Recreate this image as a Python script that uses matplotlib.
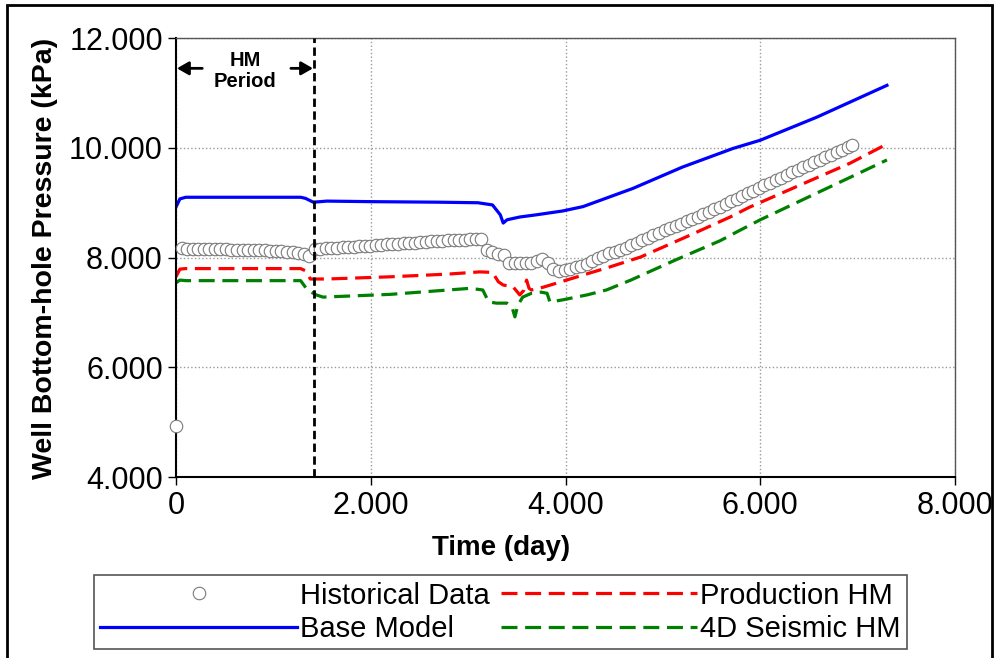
import numpy as np
import matplotlib.pyplot as plt
from matplotlib.patches import Rectangle
from matplotlib.ticker import FuncFormatter

plt.rcParams['font.family'] = ['Liberation Sans', 'DejaVu Sans']

# historical well bottom-hole pressure (kPa)
hist_days = [0, 57, 114, 171, 228, 285, 342, 399, 456, 513, 570, 627, 684, 741, 798,
             855, 912, 969, 1026, 1083, 1140, 1197, 1254, 1311, 1368, 1425, 1482,
             1539, 1596, 1653, 1710, 1767, 1824, 1881, 1938, 1995, 2052, 2109, 2166,
             2223, 2280, 2337, 2394, 2451, 2508, 2565, 2622, 2679, 2736, 2793, 2850,
             2907, 2964, 3021, 3078, 3135, 3192, 3249, 3306, 3363, 3420, 3477, 3534,
             3591, 3648, 3705, 3762, 3819, 3876, 3933, 3990, 4047, 4104, 4161, 4218,
             4275, 4332, 4389, 4446, 4503, 4560, 4617, 4674, 4731, 4788, 4845, 4902,
             4959, 5016, 5073, 5130, 5187, 5244, 5301, 5358, 5415, 5472, 5529, 5586,
             5643, 5700, 5757, 5814, 5871, 5928, 5985, 6042, 6099, 6156, 6213, 6270,
             6327, 6384, 6441, 6498, 6555, 6612, 6669, 6726, 6783, 6840, 6897, 6940]
hist_p = [4930, 8170, 8165, 8165, 8160, 8160, 8155, 8155, 8150, 8150, 8145, 8145, 8140,
          8140, 8135, 8130, 8130, 8125, 8120, 8115, 8110, 8100, 8090, 8060, 8030, 8160,
          8165, 8170, 8175, 8180, 8190, 8195, 8200, 8210, 8215, 8220, 8230, 8235, 8240,
          8250, 8255, 8260, 8270, 8275, 8280, 8290, 8295, 8300, 8305, 8315, 8320, 8325,
          8330, 8335, 8340, 8340, 8140, 8100, 8070, 8040, 7910, 7900, 7900, 7900, 7910,
          7930, 7970, 7900, 7790, 7760, 7770, 7790, 7820, 7845, 7880, 7940, 7990, 8030,
          8080, 8110, 8140, 8180, 8225, 8270, 8315, 8360, 8410, 8455, 8495, 8535, 8575,
          8620, 8660, 8700, 8745, 8790, 8835, 8880, 8925, 8975, 9025, 9075, 9125, 9170,
          9220, 9270, 9320, 9365, 9410, 9460, 9510, 9555, 9605, 9650, 9695, 9740, 9785,
          9830, 9875, 9920, 9965, 10010, 10060]

base_days = [0, 40, 100, 1280, 1330, 1410, 1550, 2000, 2700, 3100, 3250, 3330, 3360,
             3400, 3530, 3700, 3970, 4180, 4690, 5200, 5720, 6000, 6580, 7300]
base_p = [8920, 9070, 9100, 9100, 9080, 9010, 9030, 9020, 9010, 9000, 8960, 8780, 8630,
          8690, 8740, 8780, 8850, 8930, 9260, 9650, 9990, 10140, 10560, 11140]

prod_days = [0, 40, 100, 1280, 1330, 1380, 1550, 2200, 2800, 3120, 3250, 3310, 3360,
             3460, 3530, 3570, 3600, 3625, 3650, 3770, 4010, 4250, 4420, 4770, 5280,
             5690, 5890, 6920, 7300]
prod_p = [7650, 7790, 7800, 7800, 7760, 7610, 7610, 7650, 7700, 7740, 7730, 7560, 7500,
          7470, 7320, 7400, 7590, 7440, 7410, 7460, 7590, 7720, 7810, 8010, 8410,
          8740, 8920, 9720, 10070]

seis_days = [0, 40, 100, 1280, 1350, 1440, 1510, 2200, 3020, 3150, 3200, 3220, 3290,
             3400, 3450, 3480, 3510, 3560, 3650, 3750, 3810, 3840, 3970, 4220, 4420,
             4670, 5120, 5590, 5760, 6000, 7300]
seis_p = [7540, 7590, 7580, 7580, 7410, 7320, 7280, 7330, 7440, 7410, 7230, 7190, 7170,
          7170, 7100, 6920, 7130, 7280, 7350, 7370, 7350, 7190, 7230, 7320, 7410,
          7590, 7950, 8310, 8470, 8690, 9780]

hm_end = 1417

fig = plt.figure(figsize=(9.97, 6.58), dpi=100)
ax = fig.add_axes([0.1765, 0.275, 0.7815, 0.667])

ax.plot(base_days, base_p, color='#0000ff', lw=2.3, label='Base Model')
ax.plot(prod_days, prod_p, color='#ff0000', lw=2.3, dashes=(5, 2.4), label='Production HM')
ax.plot(seis_days, seis_p, color='#008000', lw=2.3, dashes=(5, 2.4), label='4D Seismic HM')
ax.plot(hist_days, hist_p, ls='none', marker='o', ms=9, mfc='white', mec='#7a7a7a',
        mew=0.8, label='Historical Data', clip_on=False, zorder=3)

ax.axvline(hm_end, color='black', lw=2, dashes=(3, 1.6), zorder=4)

# HM period annotation
arr = dict(arrowstyle='-|>,head_length=0.7,head_width=0.4', color='black', lw=2,
           shrinkA=0, shrinkB=0)
ax.annotate('', xy=(10, 11450), xytext=(270, 11450), arrowprops=arr)
ax.annotate('', xy=(hm_end - 10, 11450), xytext=(1180, 11450), arrowprops=arr)
ax.text(710, 11400, 'HM\nPeriod', ha='center', va='center', fontsize=14.5,
        fontweight='bold', linespacing=1.1)

ax.set_xlim(0, 8000)
ax.set_ylim(4000, 12000)
ax.set_xticks([0, 2000, 4000, 6000, 8000])
ax.set_yticks([4000, 6000, 8000, 10000, 12000])
fmt = FuncFormatter(lambda v, p: '0' if v == 0 else f'{int(v):,}'.replace(',', '.'))
ax.xaxis.set_major_formatter(fmt)
ax.yaxis.set_major_formatter(FuncFormatter(lambda v, p: f'{int(v):,}'.replace(',', '.')))
ax.tick_params(labelsize=22, length=6, width=1, direction='out', colors='black')
ax.tick_params(axis='x', pad=4)
ax.grid(True, color='#999999', ls=':', lw=1)

for s in ['left', 'bottom']:
    ax.spines[s].set_linewidth(1.5)
for s in ['top', 'right']:
    ax.spines[s].set_color('#555555')
    ax.spines[s].set_linewidth(1)

fig.text(501 / 997, 1 - 548 / 658, 'Time (day)', fontsize=20, fontweight='bold',
         ha='center', va='center')
fig.text(45 / 997, 1 - 258 / 658, 'Well Bottom-hole Pressure (kPa)', fontsize=20.5,
         fontweight='bold', ha='center', va='center', rotation=90)

handles, labels = ax.get_legend_handles_labels()
order = [3, 0, 1, 2]
leg = fig.legend([handles[i] for i in order], [labels[i] for i in order],
                 loc='upper left', bbox_to_anchor=(0.094, 0.016, 0.816, 0.11),
                 mode='expand', ncol=2, fontsize=21, handlelength=6.75,
                 handletextpad=0.1, columnspacing=0.1, labelspacing=0.18,
                 borderpad=0.22, borderaxespad=0, fancybox=False, framealpha=1)
leg.get_frame().set_edgecolor('#555555')
leg.get_frame().set_linewidth(1.2)

# outer border
fig.patches.append(Rectangle((7 / 997, -0.05), 985 / 997, 1 - 5 / 658 + 0.05,
                             transform=fig.transFigure, fill=False, ec='black', lw=2))

fig.savefig('out.png', dpi=100)
